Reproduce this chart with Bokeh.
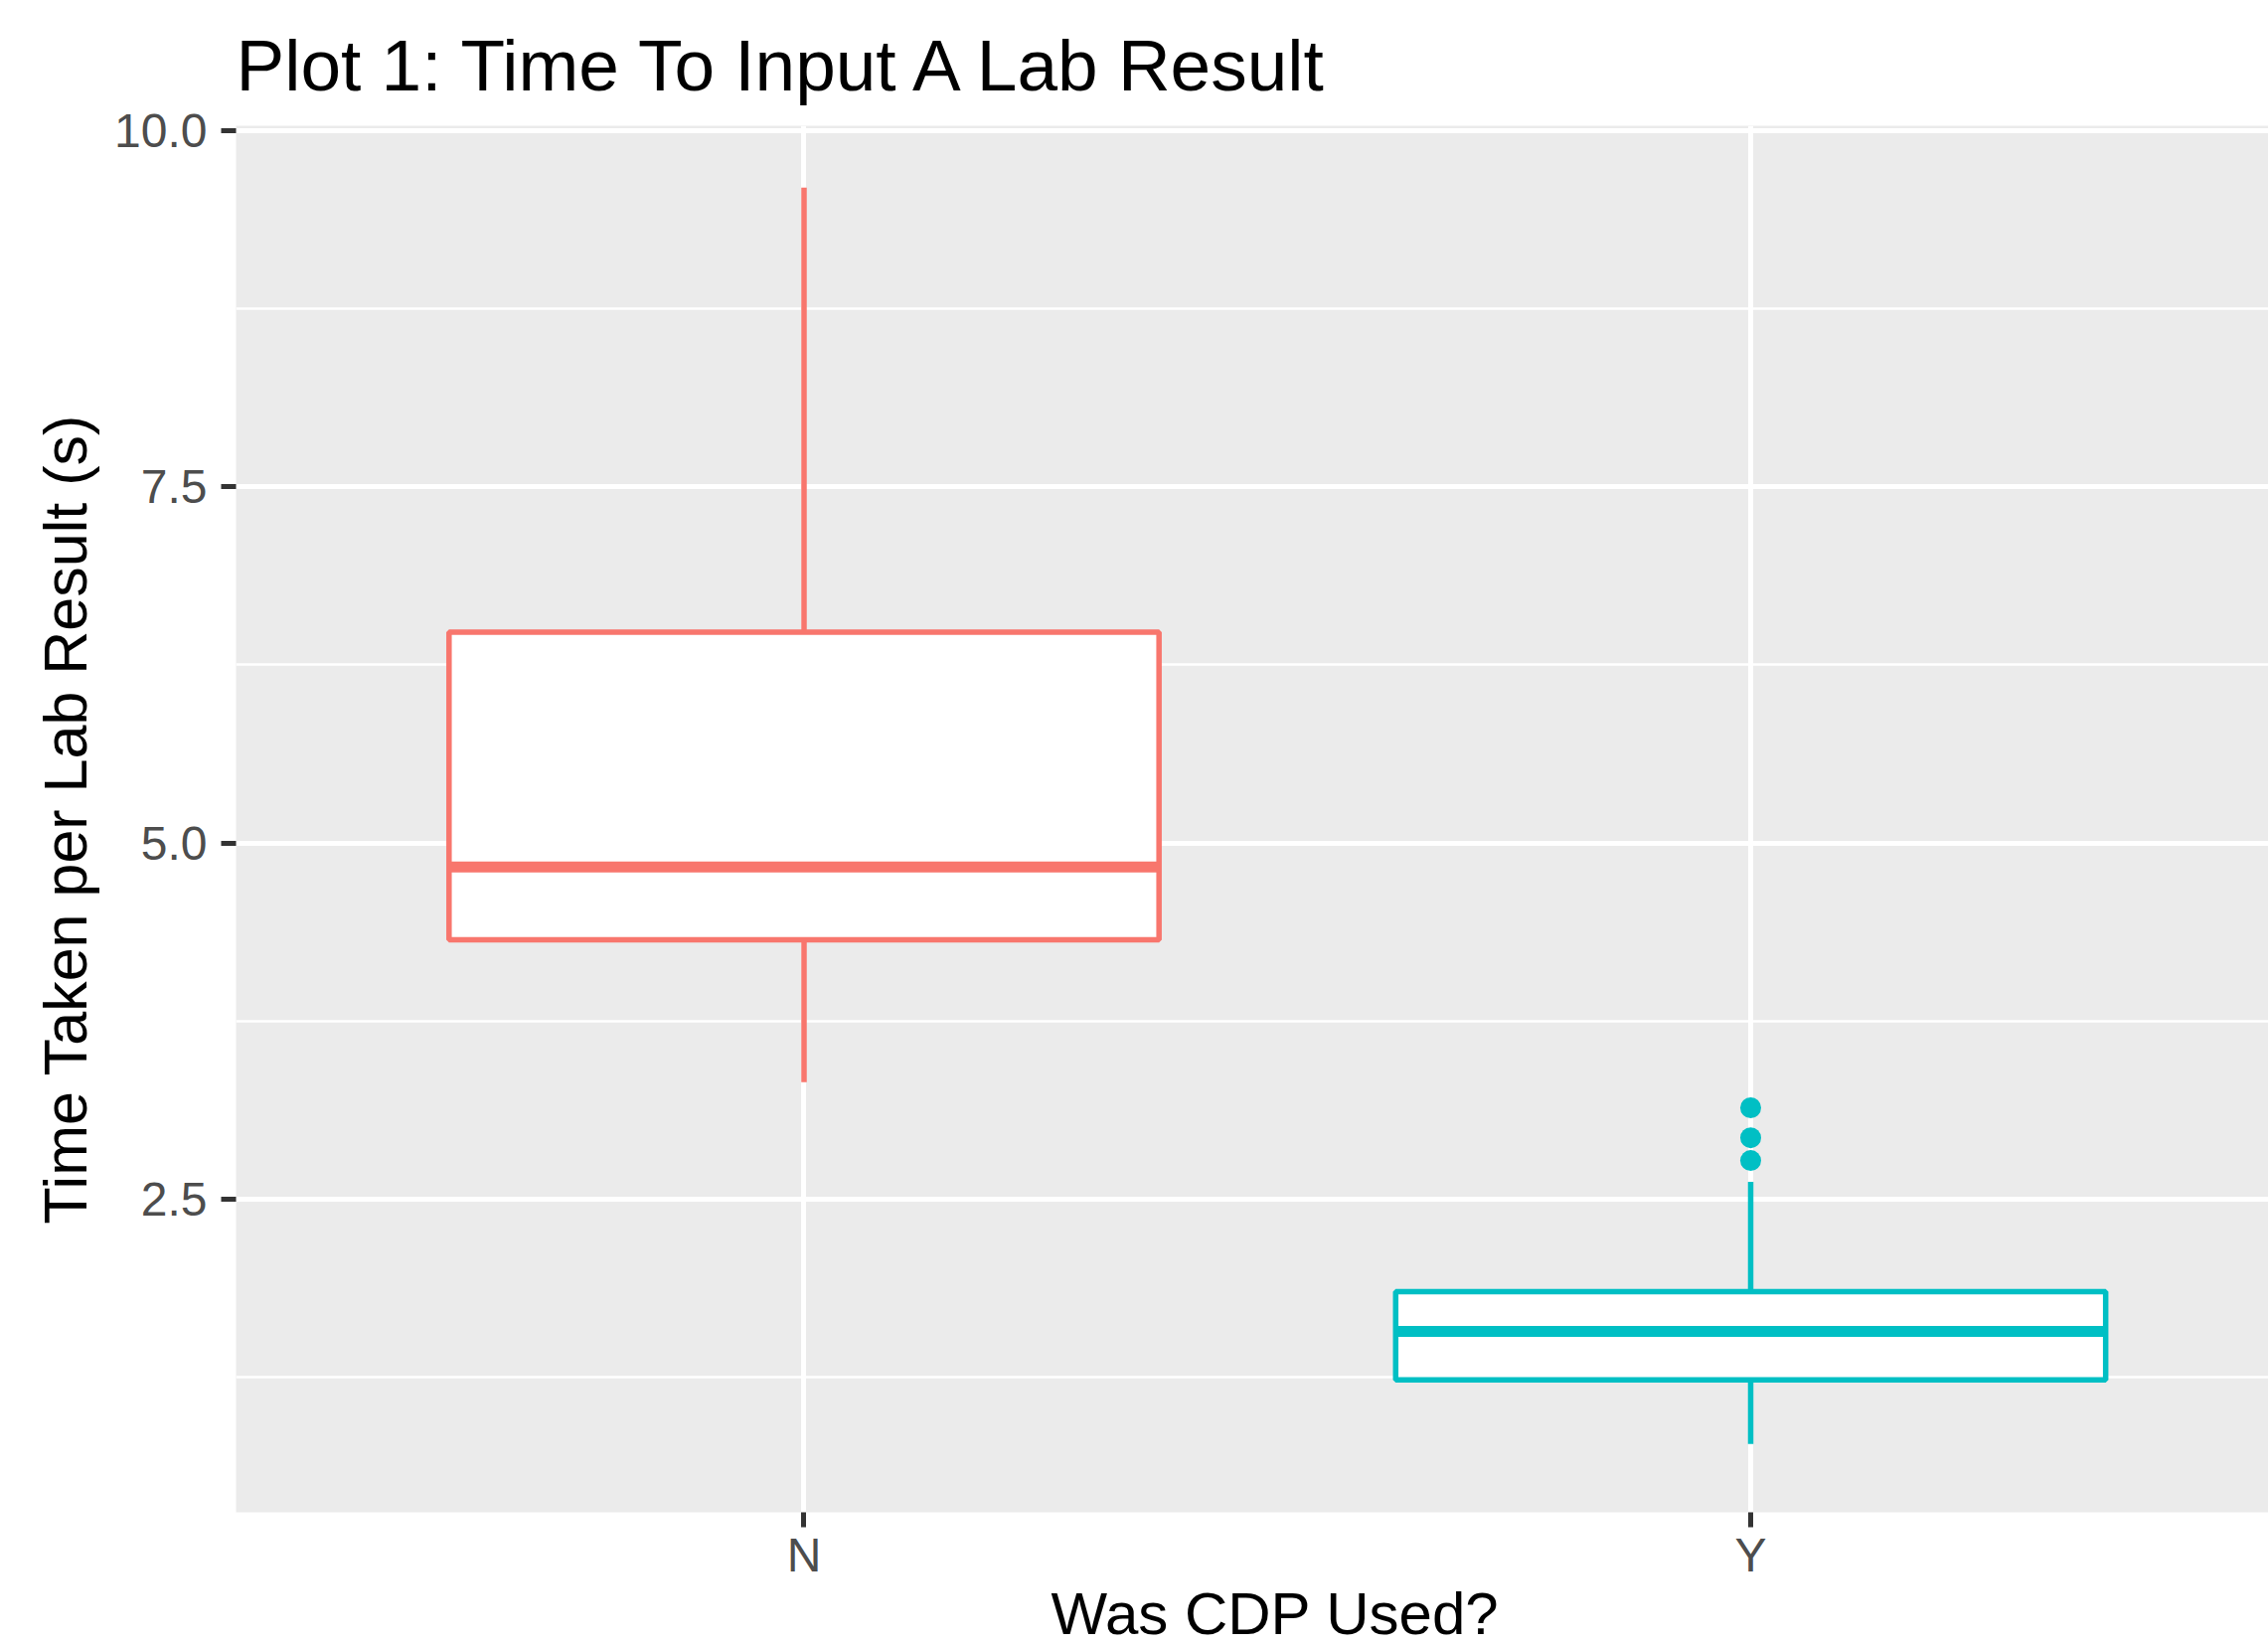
from bokeh.plotting import figure
from bokeh.models import FixedTicker, Range1d, ColumnDataSource, Title
from bokeh.embed import file_html
from bokeh.resources import INLINE

# ---- data ----
groups = ["N", "Y"]
group_pos = [1, 2]
colors = ["#F8766D", "#00BFC4"]
q1 = [4.32, 1.23]
median = [4.83, 1.57]
q3 = [6.48, 1.85]
whisker_low = [3.32, 0.78]
whisker_high = [9.60, 2.62]
outlier_group = ["Y", "Y", "Y"]
outlier_values = [3.14, 2.93, 2.77]
y_ticks = [2.5, 5.0, 7.5, 10.0]
y_tick_labels = ["2.5", "5.0", "7.5", "10.0"]
y_minor = [1.25, 3.75, 6.25, 8.75]

FONT = "Liberation Sans"
box_width = 0.75
X0, X1 = 0.4, 2.547
Y0, Y1 = 0.30, 10.035

p = figure(width=2282, height=1656, output_backend="svg", toolbar_location=None,
           x_range=Range1d(X0, X1), y_range=Range1d(Y0, Y1),
           min_border_left=237, min_border_right=0, min_border_top=126,
           min_border_bottom=135)
p.title = Title(text="Plot 1: Time To Input A Lab Result", text_font=FONT,
                text_font_size="73px", text_font_style="normal", text_color="black",
                align="left", vertical_align="top", offset=0, standoff=38)
p.background_fill_color = "#EBEBEB"
p.border_fill_color = "white"
p.outline_line_color = None

# grids
p.xgrid.ticker = FixedTicker(ticks=group_pos)
p.ygrid.ticker = FixedTicker(ticks=y_ticks, minor_ticks=y_minor)
for g in (p.xgrid, p.ygrid):
    g.grid_line_color = "white"
    g.grid_line_width = 5
p.ygrid.minor_grid_line_color = "white"
p.ygrid.minor_grid_line_width = 2.5

# axes
xa = p.xaxis[0]
xa.ticker = FixedTicker(ticks=group_pos)
xa.major_label_overrides = {pos: g for pos, g in zip(group_pos, groups)}
ya = p.yaxis[0]
ya.ticker = FixedTicker(ticks=y_ticks)
ya.major_label_overrides = {t: l for t, l in zip(y_ticks, y_tick_labels)}
for ax in (xa, ya):
    ax.axis_line_color = None
    ax.major_tick_line_color = "#333333"
    ax.major_tick_line_width = 5
    ax.major_tick_out = 15
    ax.major_tick_in = 0
    ax.minor_tick_line_color = None
    ax.major_label_text_font = FONT
    ax.major_label_text_font_size = "48px"
    ax.major_label_text_color = "#4D4D4D"
xa.major_label_standoff = 1
ya.major_label_standoff = 14
ya.axis_label = "Time Taken per Lab Result (s)"
ya.axis_label_text_font = FONT
ya.axis_label_text_font_size = "61px"
ya.axis_label_text_font_style = "normal"
ya.axis_label_text_color = "black"
ya.axis_label_standoff = 12

# boxes
src = ColumnDataSource(dict(x=group_pos, q1=q1, med=median, q3=q3, lo=whisker_low,
                            hi=whisker_high, color=colors,
                            left=[x - box_width / 2 for x in group_pos],
                            right=[x + box_width / 2 for x in group_pos]))
p.segment(x0="x", y0="q3", x1="x", y1="hi", line_color="color", line_width=5.5, source=src)
p.segment(x0="x", y0="q1", x1="x", y1="lo", line_color="color", line_width=5.5, source=src)
p.quad(left="left", right="right", bottom="q1", top="q3", fill_color="white",
       line_color="color", line_width=5.5, source=src)
p.segment(x0="left", y0="med", x1="right", y1="med", line_color="color", line_width=11,
          source=src)

ox = [group_pos[groups.index(g)] for g in outlier_group]
p.scatter(ox, outlier_values, size=21, fill_color=colors[1], line_color=None)

# x-axis title, centred on the full (uncropped) ggplot panel (x = 1.5)
p.add_layout(Title(text="Was CDP Used?", text_font=FONT, text_font_size="60px",
                   text_font_style="normal", text_color="black", align="left",
                   offset=820, standoff=-11), "below")

open("out.html", "w").write(file_html(p, INLINE))
